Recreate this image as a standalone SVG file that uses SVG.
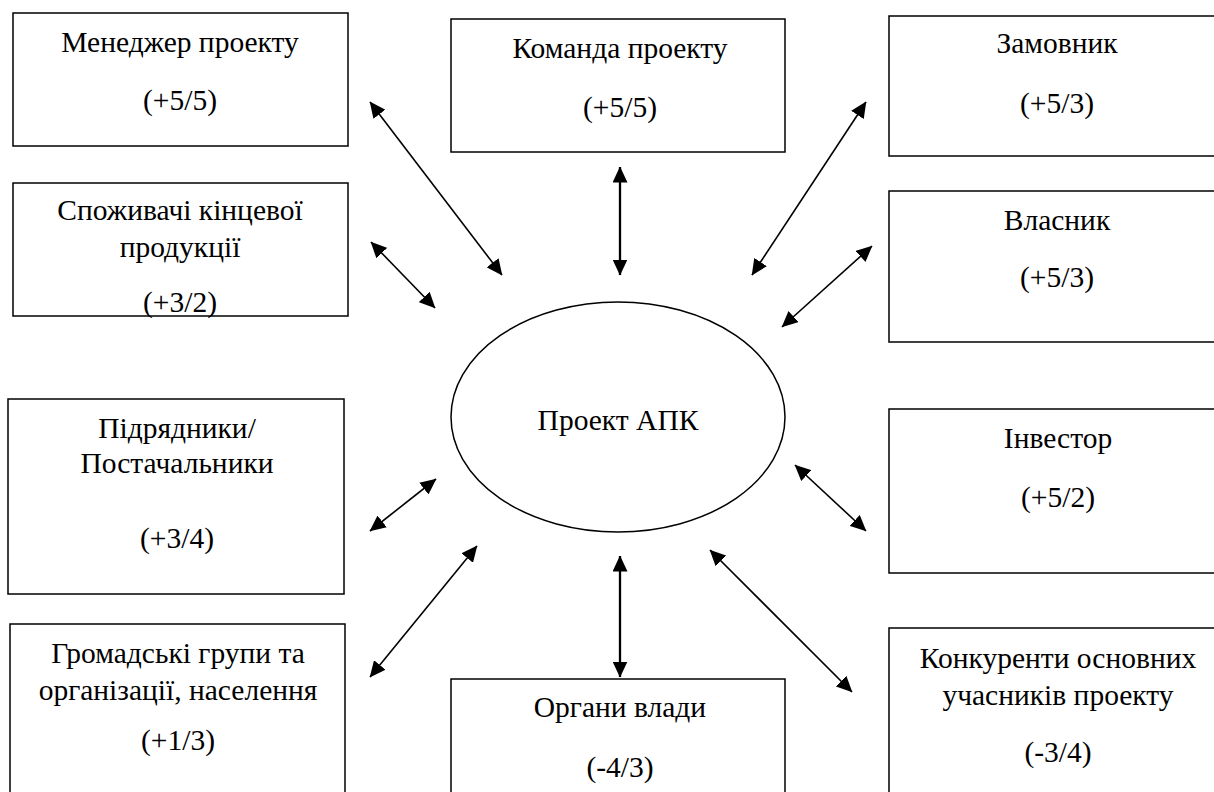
<svg xmlns="http://www.w3.org/2000/svg" width="1214" height="792" viewBox="0 0 1214 792">
  <defs>
    <style>
      .box { fill: #ffffff; stroke: #000000; stroke-width: 1.5; }
      .hub { fill: #ffffff; stroke: #000000; stroke-width: 1.5; }
      .lbl { font-family: 'Liberation Serif', 'Times New Roman', serif; font-size: 29.5px; fill: #000000; text-anchor: middle; }
      .link { stroke: #000000; stroke-width: 1.6; fill: none; marker-start: url(#head); marker-end: url(#head); }
      .link.thick { stroke-width: 2.3; }
    </style>
    <marker id="head" viewBox="0 0 16 15" refX="15.5" refY="7.5" markerWidth="16" markerHeight="15" markerUnits="userSpaceOnUse" orient="auto-start-reverse">
      <path d="M0,0 L16,7.5 L0,15 z" fill="#000000"/>
    </marker>
  </defs>

  <rect width="1214" height="792" fill="#ffffff"/>

  <!-- two-way links between the project and each participant -->
  <g id="connectors">
    <line class="link" x1="370" y1="102" x2="502" y2="275"/>
    <line class="link thick" x1="620" y1="167" x2="620" y2="275"/>
    <line class="link" x1="866" y1="102" x2="752" y2="275"/>
    <line class="link" x1="371" y1="242" x2="435" y2="308"/>
    <line class="link" x1="872" y1="246" x2="782" y2="327"/>
    <line class="link" x1="370" y1="531" x2="436" y2="479"/>
    <line class="link" x1="795" y1="465" x2="866" y2="531"/>
    <line class="link" x1="370" y1="677" x2="477" y2="546"/>
    <line class="link thick" x1="620" y1="556" x2="620" y2="677"/>
    <line class="link" x1="710" y1="550" x2="852" y2="692"/>
  </g>

  <!-- centre -->
  <g id="project">
    <ellipse class="hub" cx="618" cy="417" rx="167" ry="115"/>
    <text class="lbl" x="618" y="430">Проект АПК</text>
  </g>

  <!-- left column -->
  <g id="manager">
    <rect class="box" x="13" y="13" width="335" height="133"/>
    <text class="lbl" x="180" y="52">Менеджер проекту</text>
    <text class="lbl" x="180" y="110">(+5/5)</text>
  </g>
  <g id="consumers">
    <rect class="box" x="13" y="183" width="335" height="133"/>
    <text class="lbl" x="180" y="220">Споживачі кінцевої</text>
    <text class="lbl" x="180" y="257">продукції</text>
    <text class="lbl" x="180" y="312">(+3/2)</text>
  </g>
  <g id="contractors">
    <rect class="box" x="8" y="399" width="336" height="195"/>
    <text class="lbl" x="177" y="438">Підрядники/</text>
    <text class="lbl" x="177" y="473">Постачальники</text>
    <text class="lbl" x="177" y="548">(+3/4)</text>
  </g>
  <g id="community">
    <rect class="box" x="10" y="624" width="335" height="180"/>
    <text class="lbl" x="178" y="663">Громадські групи та</text>
    <text class="lbl" x="178" y="700">організації, населення</text>
    <text class="lbl" x="178" y="750">(+1/3)</text>
  </g>

  <!-- middle column -->
  <g id="team">
    <rect class="box" x="451" y="19" width="334" height="133"/>
    <text class="lbl" x="620" y="58">Команда проекту</text>
    <text class="lbl" x="620" y="117">(+5/5)</text>
  </g>
  <g id="authorities">
    <rect class="box" x="451" y="679" width="334" height="125"/>
    <text class="lbl" x="620" y="717">Органи влади</text>
    <text class="lbl" x="620" y="777">(-4/3)</text>
  </g>

  <!-- right column -->
  <g id="customer">
    <rect class="box" x="889" y="16" width="330" height="140"/>
    <text class="lbl" x="1057" y="53">Замовник</text>
    <text class="lbl" x="1057" y="113">(+5/3)</text>
  </g>
  <g id="owner">
    <rect class="box" x="889" y="191" width="330" height="151"/>
    <text class="lbl" x="1057" y="230">Власник</text>
    <text class="lbl" x="1057" y="287">(+5/3)</text>
  </g>
  <g id="investor">
    <rect class="box" x="889" y="409" width="330" height="164"/>
    <text class="lbl" x="1058" y="448">Інвестор</text>
    <text class="lbl" x="1058" y="507">(+5/2)</text>
  </g>
  <g id="competitors">
    <rect class="box" x="889" y="628" width="330" height="176"/>
    <text class="lbl" x="1058" y="668">Конкуренти основних</text>
    <text class="lbl" x="1058" y="705">учасників проекту</text>
    <text class="lbl" x="1058" y="762">(-3/4)</text>
  </g>
</svg>
